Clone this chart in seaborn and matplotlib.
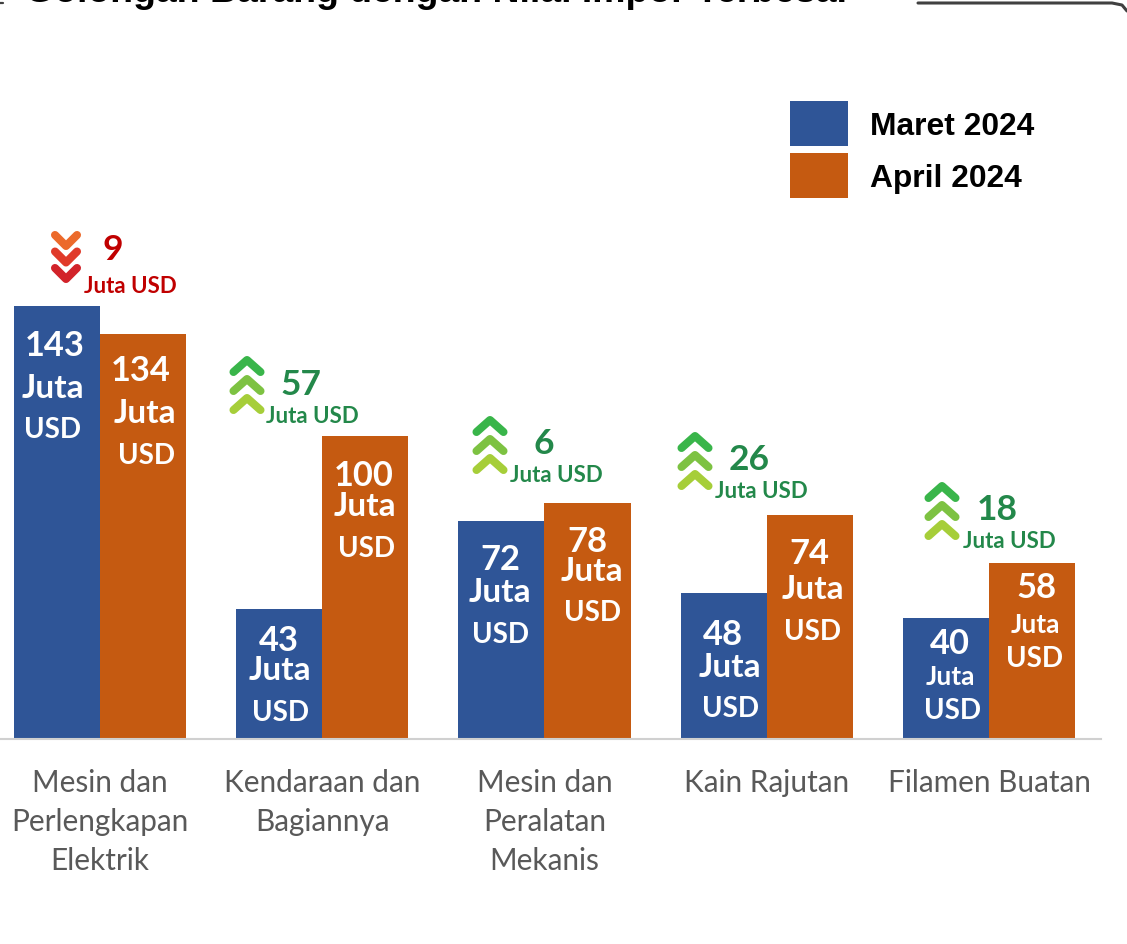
import matplotlib
matplotlib.use("Agg")
import matplotlib.pyplot as plt
import seaborn as sns
import pandas as pd
from matplotlib.lines import Line2D
from matplotlib.patches import Patch
from matplotlib.transforms import Affine2D

# ---- data ----
categories = ["Mesin dan\nPerlengkapan\nElektrik", "Kendaraan dan\nBagiannya",
              "Mesin dan\nPeralatan\nMekanis", "Kain Rajutan", "Filamen Buatan"]
maret = [143, 43, 72, 48, 40]
april = [134, 100, 78, 74, 58]
delta = [9, 57, 6, 26, 18]
series_names = ["Maret 2024", "April 2024"]
title = "Golongan Barang dengan Nilai Impor Terbesar"
unit_word = "Juta"
unit_cur = "USD"

# ---- style ----
BLUE, ORANGE = "#2F5597", "#C55A11"
RED, GREEN = "#C00000", "#23884A"
W, H = 1127, 945
sns.set_theme(style="white")
plt.rcParams["font.family"] = ["Lato", "DejaVu Sans"]

fig = plt.figure(figsize=(W / 100, H / 100), dpi=100, facecolor="white")
base_px = 739.5
ax = fig.add_axes([0, (H - base_px) / H, 1101 / W, base_px / H])

df = pd.DataFrame({
    "cat": categories * 2,
    "val": maret + april,
    "s": [series_names[0]] * 5 + [series_names[1]] * 5,
})
sns.barplot(data=df, x="cat", y="val", hue="s", palette=[BLUE, ORANGE], width=0.775,
            gap=0, dodge=True, saturation=1, legend=False, linewidth=0, ax=ax)
ax.set_xlim(-0.45, 4.504)
ax.set_ylim(0, base_px / 3.022)
ax.set_xlabel("")
ax.set_ylabel("")
ax.set_yticks([])
for s in ["top", "left", "right"]:
    ax.spines[s].set_visible(False)
ax.spines["bottom"].set_color("#D0D0D0")
ax.spines["bottom"].set_linewidth(1.5)
ax.tick_params(axis="x", length=0, pad=21.5)
ax.set_xticks(range(5))
ax.set_xticklabels(categories, fontsize=21.4, color="#595959", linespacing=1.47)
for t in ax.get_xticklabels():
    t.set_verticalalignment("top")

# pixel coordinates for annotations (origin at top-left of the picture)
px = Affine2D().scale(1, -1).translate(0, H)


def label(x, y, s, size, color="white", weight="bold"):
    fig.text(x, y + 3, s, transform=px, ha="center", va="center", fontsize=size, color=color,
             fontweight=weight)


# in-bar labels: (number x,y), (Juta x,y), (USD x,y), juta size
blue_pos = [((55, 343), (53, 386), (53, 427), 24), ((279, 638), (280, 668), (280, 710), 24),
            ((500, 557), (500, 590), (500, 632), 24), ((723, 632), (730, 665), (730, 706), 24),
            ((950, 641), (950, 674), (952, 708), 19)]
orange_pos = [((141, 368), (145, 411), (146, 453), 24), ((364, 473), (365, 504), (366, 546), 24),
              ((587, 539), (592, 569), (593, 610), 24), ((809, 551), (813, 587), (813, 629), 24),
              ((1036, 585), (1035, 622), (1035, 656), 19)]
for vals, poss in ((maret, blue_pos), (april, orange_pos)):
    for v, (a, b, c, js) in zip(vals, poss):
        label(a[0], a[1], str(v), 24.8)
        label(b[0], b[1], unit_word, js)
        label(c[0], c[1], unit_cur, 20)


def chevrons(cx, tops, half, h, colors, up, lw):
    for top, col in zip(tops, colors):
        if up:
            xs, ys = [cx - half, cx, cx + half], [top + h, top, top + h]
        else:
            xs, ys = [cx - half, cx, cx + half], [top, top + h, top]
        fig.add_artist(Line2D(xs, ys, transform=px, color=col, lw=lw,
                              solid_capstyle="round", solid_joinstyle="round"))


DOWN = ["#EC6A2B", "#E03A2A", "#D2232A"]
UP = ["#39B54A", "#7DC242", "#A6CE39"]
# delta annotations: chevron cx, first chevron y, number xy, unit xy
delta_pos = [(66, 236, (113, 247), (130, 284)), (247, 361, (301, 382), (312, 414)),
             (490, 421, (544, 441), (556, 473)), (695, 437, (749, 457), (761, 489)),
             (942, 487, (997, 507), (1009, 539))]
for i, (d, (cx, y0, n, u)) in enumerate(zip(delta, delta_pos)):
    down = i == 0
    col = RED if down else GREEN
    step = 16.5 if down else 19
    half = 11 if down else 13.5
    h = 11 if down else 12
    chevrons(cx, [y0 + k * step for k in range(3)], half, h, DOWN if down else UP, not down, 5.8)
    label(n[0], n[1], str(d), 25.5, color=col)
    label(u[0], u[1], f"{unit_word} {unit_cur}", 16, color=col)

# legend
handles = [Patch(facecolor=BLUE, linewidth=0), Patch(facecolor=ORANGE, linewidth=0)]
fig.legend(handles, series_names, loc="upper left", bbox_to_anchor=(789.5 / W, 1 - 102 / H),
           frameon=False, borderpad=0, borderaxespad=0, handlelength=1.84, handleheight=1.8,
           handletextpad=0.69, labelspacing=0.22,
           prop={"family": "Liberation Sans", "weight": "bold", "size": 22.9}, labelcolor="black")

# clipped title and frame remnants at the top
fig.text(25, 2, title, transform=px, ha="left", va="baseline", fontsize=26.9, color="black",
         fontweight="bold", family="Liberation Sans")
fig.add_artist(Line2D([918, 1112, 1122, 1127], [4, 4, 6, 12], transform=px, color="#404040", lw=2.2,
                      solid_joinstyle="round"))
fig.add_artist(Line2D([0, 3], [4, 4], transform=px, color="#404040", lw=1.6))

fig.savefig("out.png", dpi=100, facecolor="white")
